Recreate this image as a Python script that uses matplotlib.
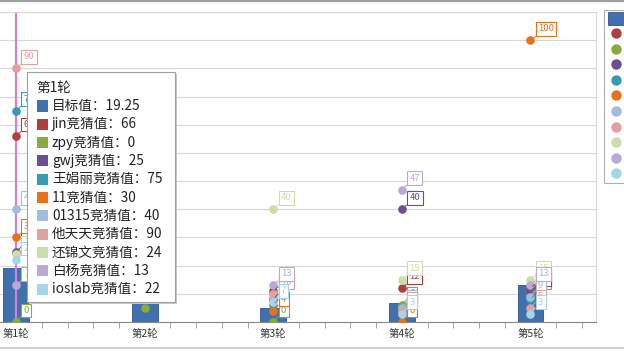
'''Recreates the guessing-game round chart (bars + scatter guesses + tooltip).'''

import matplotlib
matplotlib.use('Agg')
import matplotlib.pyplot as plt
from matplotlib.patches import Rectangle
from matplotlib.lines import Line2D

plt.rcParams['font.family'] = ['Noto Sans CJK SC', 'DejaVu Sans']

# Categories and data
rounds = ['第1轮', '第2轮', '第3轮', '第4轮', '第5轮']
target = [19.25, 7, 5, 6.6, 13.1]

series_names = ['jin', 'zpy', 'gwj', '王娟丽', '11', '01315', '他天天', '还锦文', '白杨', 'ioslab']
jin_vals = [66, 30, 11, 12, 12]
zpy_vals = [0, 5, 0, 6, 10]
gwj_vals = [25, 20, 8, 40, 11]
wjl_vals = [75, 50, 6, 5, 8]
v11_vals = [30, 15, 4, 0, 100]
v01315_vals = [40, 25, 9, 5, 9]
ttt_vals = [90, 35, 10, 4, 5]
hjw_vals = [24, 20, 40, 15, 15]
by_vals = [13, 45, 13, 47, 13]
ioslab_vals = [22, 12, 7, 3, 3]
series_vals = [jin_vals, zpy_vals, gwj_vals, wjl_vals, v11_vals,
               v01315_vals, ttt_vals, hjw_vals, by_vals, ioslab_vals]

bar_color = '#4070AD'
colors = ['#B03F3F', '#8AAA3E', '#6C4E92', '#389AB3', '#E8721C',
          '#A2BCE0', '#E0A2A1', '#CCDDAA', '#BBA8D4', '#A4D6E6']

W, H = 624, 351


def fx(x):
    return x / W


def fy(y):
    return 1 - y / H


fig = plt.figure(figsize=(6.24, 3.51), dpi=100)
ax = fig.add_axes([0, fy(322), fx(596), fy(12) - fy(322)])

xs = list(range(len(rounds)))

# Bars for the target value
ax.bar(xs, target, width=0.2, color=bar_color, edgecolor='#2E5586', linewidth=0.6, zorder=2)

# Crosshair on round 1
ax.axvline(0, color='#D77FD7', lw=1.6, zorder=2.5)

# Guess points with small boxed data labels
# (round 2 labels sit fully under the tooltip, so they are left out)
for name, vals, c in zip(series_names, series_vals, colors):
    ax.plot(xs, vals, 'o', color=c, markersize=6.2, markeredgewidth=0, zorder=3)
    for x, v in zip(xs, vals):
        if x == 1:
            continue
        ax.annotate(str(v), (x, v), xytext=(5.5, 5), textcoords='offset points',
                    fontsize=6.8, color=c, ha='left', va='bottom', zorder=4,
                    bbox=dict(boxstyle='square,pad=0.25', fc='white', ec=c, lw=0.8),
                    arrowprops=dict(arrowstyle='-', color=c, lw=0.7, shrinkA=0, shrinkB=2))

ax.set_xlim(-0.125, 4.51)
ax.set_ylim(0, 110)
ax.set_yticks(range(0, 111, 10))
ax.set_yticklabels([])
ax.tick_params(axis='y', length=0)
ax.grid(axis='y', color='#D8D8D8', lw=0.8, zorder=0)
ax.set_axisbelow(True)

ax.set_xticks(xs)
ax.set_xticklabels(rounds, fontsize=7.5, color='#333333')
ax.set_xticks([i * 0.2 for i in range(0, 23)], minor=True)
ax.tick_params(axis='x', which='major', length=0, pad=5)
ax.tick_params(axis='x', which='minor', length=4, color='#999999')

ax.spines['left'].set_visible(False)
ax.spines['bottom'].set_color('#888888')
ax.spines['top'].set_color('#D8D8D8')
ax.spines['right'].set_color('#D8D8D8')

# Outer frame lines
fig.add_artist(Line2D([0, 1], [fy(0.8), fy(0.8)], color='#A0A0A0', lw=1.6))
fig.add_artist(Line2D([0, 1], [fy(348), fy(348)], color='#C8C8C8', lw=1.2))

# Legend (only markers visible, box cropped at right edge)
fig.add_artist(Rectangle((fx(604), fy(183)), fx(30), fy(10) - fy(183), transform=fig.transFigure,
                         fc='white', ec='#B0B0B0', lw=0.8))
fig.add_artist(Rectangle((fx(608), fy(25)), fx(18), fy(12) - fy(25), transform=fig.transFigure,
                         fc=bar_color, ec='#2E5586', lw=0.6))
for i, c in enumerate(colors):
    yy = 33 + i * 15.6
    fig.add_artist(Line2D([fx(616)], [fy(yy)], marker='o', color=c, markersize=7.5,
                          markeredgewidth=0))

# Tooltip for round 1
tx0, ty0, tx1, ty1 = 27, 72, 175, 302
fig.add_artist(Rectangle((fx(tx0 + 2), fy(ty1 + 2)), fx(tx1 - tx0), fy(ty0) - fy(ty1),
                         transform=fig.transFigure, fc='#C8C8C8', ec='none', zorder=10))
fig.add_artist(Rectangle((fx(tx0), fy(ty1)), fx(tx1 - tx0), fy(ty0) - fy(ty1),
                         transform=fig.transFigure, fc='white', ec='#A0A0A0', lw=0.8, zorder=11))
fig.text(fx(36), fy(88), rounds[0], fontsize=9.8, color='#222222', va='center', zorder=12)

rows = [('目标值', target[0], bar_color)] + \
       [(n + '竞猜值', v[0], c) for n, v, c in zip(series_names, series_vals, colors)]
for i, (label, val, c) in enumerate(rows):
    yy = 106 + i * 18.3
    fig.add_artist(Rectangle((fx(37), fy(yy + 5.5)), fx(11), fy(yy - 5.5) - fy(yy + 5.5),
                             transform=fig.transFigure, fc=c, ec='none', zorder=12))
    fig.text(fx(52), fy(yy), f'{label}：{val:g}', fontsize=9.8, color='#222222',
             va='center', zorder=12)

fig.savefig('out.png', dpi=100)
